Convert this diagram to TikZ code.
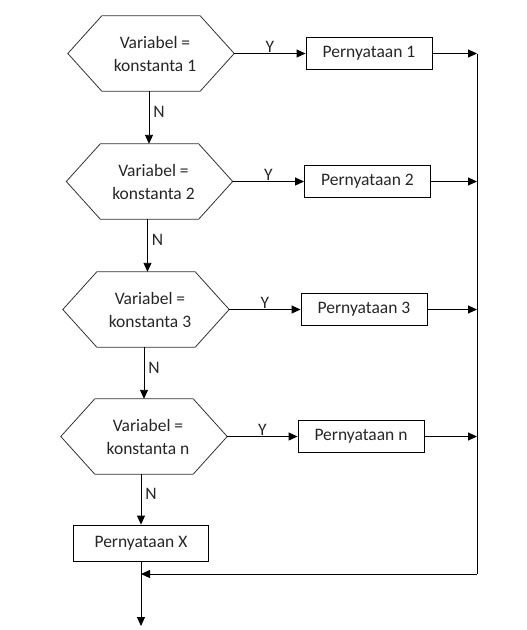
\documentclass[tikz,border=0pt]{standalone}
\usepackage{fontspec}
\setmainfont{Carlito}
\usetikzlibrary{arrows.meta,calc}
\begin{document}
\begin{tikzpicture}[x=1pt,y=-1pt,
  every node/.style={text=black!85},
  hexa/.style={minimum width=166pt,minimum height=75pt,inner sep=0pt,align=center,
    font=\fontsize{17.5}{23}\selectfont},
  hexline/.style={draw=black!80,line width=0.8pt},
  stmt/.style={draw,line width=0.9pt,minimum width=126pt,minimum height=32pt,inner sep=0pt,
    font=\fontsize{17.5}{21}\selectfont},
  lbl/.style={font=\fontsize{17.5}{21}\selectfont,inner sep=1pt},
  arr/.style={line width=0.9pt,-{Triangle[length=9pt,width=8pt]}},
  ln/.style={line width=0.9pt}]
\useasboundingbox (0,0) rectangle (527,630);
% decisions
\node[hexa] (h1) at (151,53.5)  {\hspace*{8pt}Variabel =\\\hspace*{8pt}konstanta 1};
\node[hexa] (h2) at (149.5,181.5) {\hspace*{8pt}Variabel =\\\hspace*{8pt}konstanta 2};
\node[hexa] (h3) at (146,309.5) {\hspace*{8pt}Variabel =\\\hspace*{8pt}konstanta 3};
\node[hexa] (hn) at (144,436.5) {\hspace*{8pt}Variabel =\\\hspace*{8pt}konstanta n};
\foreach \h in {h1,h2,h3,hn}
  \draw[hexline] (\h.west) -- ([xshift=34pt]\h.north west) -- ([xshift=-34pt]\h.north east)
    -- (\h.east) -- ([xshift=-34pt]\h.south east) -- ([xshift=34pt]\h.south west) -- cycle;
% statements
\node[stmt] (b1) at (369,53.5)   {Pernyataan 1};
\node[stmt] (b2) at (367.5,181.5) {Pernyataan 2};
\node[stmt] (b3) at (364,309.5)   {Pernyataan 3};
\node[stmt] (bn) at (361,436.5)   {Pernyataan n};
\node[stmt,minimum width=135pt,minimum height=36pt] (bx) at (141,543) {Pernyataan X};
% helper coordinates
\coordinate (rl) at (477,0);
\coordinate (merge) at (477,574);
\coordinate (endp) at (141,626);
% Y arrows
\draw[arr] (h1.east) -- node[lbl,above] {Y} (b1.west);
\draw[arr] (h2.east) -- node[lbl,above] {Y} (b2.west);
\draw[arr] (h3.east) -- node[lbl,above] {Y} (b3.west);
\draw[arr] (hn.east) -- node[lbl,above] {Y} (bn.west);
% N arrows
\draw[arr] ([xshift=-2pt]h1.south) -- node[lbl,right,pos=0.4,xshift=3pt] {N} ([xshift=-2pt]h1.south |- h2.north);
\draw[arr] ([xshift=-2pt]h2.south) -- node[lbl,right,pos=0.4,xshift=3pt] {N} ([xshift=-2pt]h2.south |- h3.north);
\draw[arr] ([xshift=-2pt]h3.south) -- node[lbl,right,pos=0.4,xshift=3pt] {N} ([xshift=-2pt]h3.south |- hn.north);
\draw[arr] ([xshift=-3pt]hn.south) -- node[lbl,right,pos=0.4,xshift=3pt] {N} (bx.north);
% outputs to the collecting line
\draw[arr] (b1.east) -- (b1.east -| rl);
\draw[arr] (b2.east) -- (b2.east -| rl);
\draw[arr] (b3.east) -- (b3.east -| rl);
\draw[arr] (bn.east) -- (bn.east -| rl);
\draw[ln] (b1.east -| rl) -- (merge);
\draw[arr] (merge) -- (merge -| bx.south);
\draw[arr] (bx.south) -- (endp);
\end{tikzpicture}
\end{document}
